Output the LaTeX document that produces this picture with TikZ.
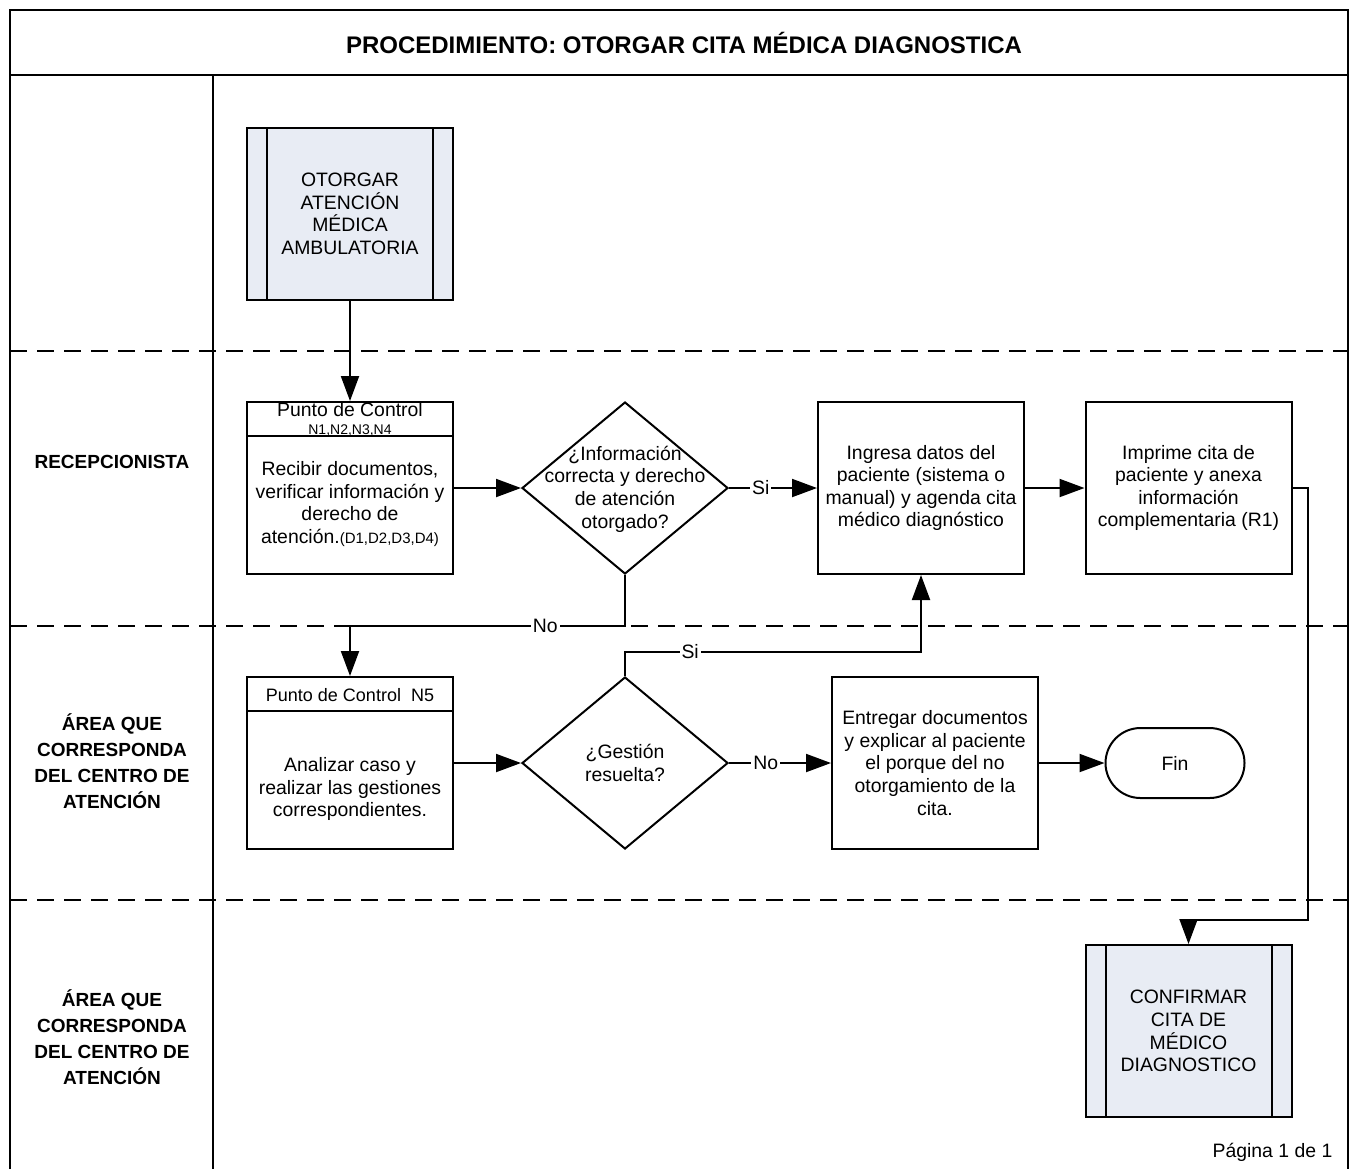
\documentclass[tikz,border=0pt]{standalone}
\usepackage{fontspec}
\setmainfont{Liberation Sans}
\usetikzlibrary{shapes.geometric,arrows.meta}
\definecolor{subfill}{RGB}{232,236,244}

\begin{document}
\begin{tikzpicture}[
						x = 0.5pt,
						y = -0.5pt,
						line width = 1pt,
						font = \fontsize{9.7}{11.3}\selectfont,
						box/.style = {
							draw,
							rectangle,
							align = center,
							inner sep = 0,
							minimum width = 103pt,
							minimum height = 86pt
						},
						sub/.style = {
							box,
							fill = subfill
						},
						hdr/.style = {
							draw,
							rectangle,
							inner sep = 0,
							minimum width = 103pt,
							minimum height = 17pt,
							anchor = north
						},
						dec/.style = {
							draw,
							diamond,
							inner sep = 0,
							minimum width = 103pt,
							minimum height = 86pt
						},
						term/.style = {
							draw,
							rectangle,
							rounded corners = 17.5pt,
							minimum width = 69.5pt,
							minimum height = 35pt
						},
						txt/.style = {
							align = center,
							inner sep = 0
						},
						lane/.style = {
							align = center,
							font = \fontsize{9.5}{13}\selectfont\bfseries
						},
						sep/.style = {
							dash pattern = on 8.5pt off 5pt
						},
						arr/.style = {
							-{Triangle[length = 12.5pt, width = 9pt]}
						},
						lbl/.style = {
							fill = white,
							inner sep = 1pt
						}
					]
				\useasboundingbox (0, 0) rectangle (1353, 1169);

				\coordinate (no1) at (350, 626);
				\coordinate (si2) at (921, 652);
				\coordinate (r1) at (1308, 920);

				\draw (10, 1169) -- (10, 10) -- (1348, 10) -- (1348, 1169);
				\draw (10, 75) -- (1348, 75);
				\draw (213, 75) -- (213, 1169);
				\foreach \y in {351, 626, 900}
					\draw [sep] (10, \y) -- (1348, \y);

				\node [font = \fontsize{12}{14}\selectfont\bfseries] (title) at (684, 43) {PROCEDIMIENTO: OTORGAR CITA MÉDICA DIAGNOSTICA};

				\node [lane] (l1) at (112, 462) {RECEPCIONISTA};
				\node [lane] (l2) at (112, 761) {ÁREA QUE\\CORRESPONDA\\DEL CENTRO DE\\ATENCIÓN};
				\node [lane] (l3) at (112, 1037) {ÁREA QUE\\CORRESPONDA\\DEL CENTRO DE\\ATENCIÓN};

				\node [sub] (sub1) at (350, 214) {OTORGAR\\ATENCIÓN\\MÉDICA\\AMBULATORIA};
				\draw ([xshift = 10.5pt]sub1.north west) -- ([xshift = 10.5pt]sub1.south west);
				\draw ([xshift = -10.5pt]sub1.north east) -- ([xshift = -10.5pt]sub1.south east);

				\node [box] (pc1) at (350, 488) {};
				\node [hdr] (pc1h) at (pc1.north) {};
				\node [txt] (pc1a) at (350, 410) {Punto de Control};
				\node [txt, font = \fontsize{7}{8}\selectfont] (pc1b) at (350, 430) {N1,N2,N3,N4};
				\node [txt] (pc1t) at (350, 504) {Recibir documentos,\\verificar información y\\derecho de\\atención.{\fontsize{7.5}{9}\selectfont(D1,D2,D3,D4)}};

				\node [dec] (dia1) at (625, 488) {};
				\node [txt] (dia1t) at (625, 489) {¿Información\\correcta y derecho\\de atención\\otorgado?};

				\node [box] (ing) at (921, 488) {Ingresa datos del\\paciente (sistema o\\manual) y agenda cita\\médico diagnóstico};
				\node [box] (imp) at (1188.5, 488) {Imprime cita de\\paciente y anexa\\información\\complementaria (R1)};

				\node [box] (pc2) at (350, 763) {};
				\node [hdr] (pc2h) at (pc2.north) {};
				\node [txt, font = \fontsize{9}{10}\selectfont] (pc2a) at (350, 695) {Punto de Control~~N5};
				\node [txt] (pc2t) at (350, 789) {Analizar caso y\\realizar las gestiones\\correspondientes.};

				\node [dec] (dia2) at (625, 763) {};
				\node [txt] (dia2t) at (625, 763) {¿Gestión\\resuelta?};

				\node [box] (ent) at (935, 763) {Entregar documentos\\y explicar al paciente\\el porque del no\\otorgamiento de la\\cita.};
				\node [term] (fin) at (1175, 763) {Fin};

				\node [sub] (conf) at (1188.5, 1031) {CONFIRMAR\\CITA DE\\MÉDICO\\DIAGNOSTICO};
				\draw ([xshift = 10.5pt]conf.north west) -- ([xshift = 10.5pt]conf.south west);
				\draw ([xshift = -10.5pt]conf.north east) -- ([xshift = -10.5pt]conf.south east);

				\node [anchor = east] (pag) at (1340, 1152) {Página 1 de 1};

				\draw [arr] (sub1) -- (pc1h);
				\draw [arr] (pc1) -- (dia1);
				\draw [arr] (dia1) -- node [lbl, pos = 0.36] (si1l) {Si} (ing);
				\draw [arr] (ing) -- (imp);
				\draw [arr] (imp.east) -| (r1) -| (conf.north);
				\draw [arr] (dia1.south) |- node [lbl, pos = 0.645] (no1l) {No} (no1) -- (pc2h.north);
				\draw [arr] (pc2) -- (dia2);
				\draw [arr] (dia2.north) |- node [lbl, pos = 0.61] (si2l) {Si} (si2) -- (ing.south);
				\draw [arr] (dia2) -- node [lbl, pos = 0.36] (no2l) {No} (ent);
				\draw [arr] (ent) -- (fin);
			\end{tikzpicture}
\end{document}
